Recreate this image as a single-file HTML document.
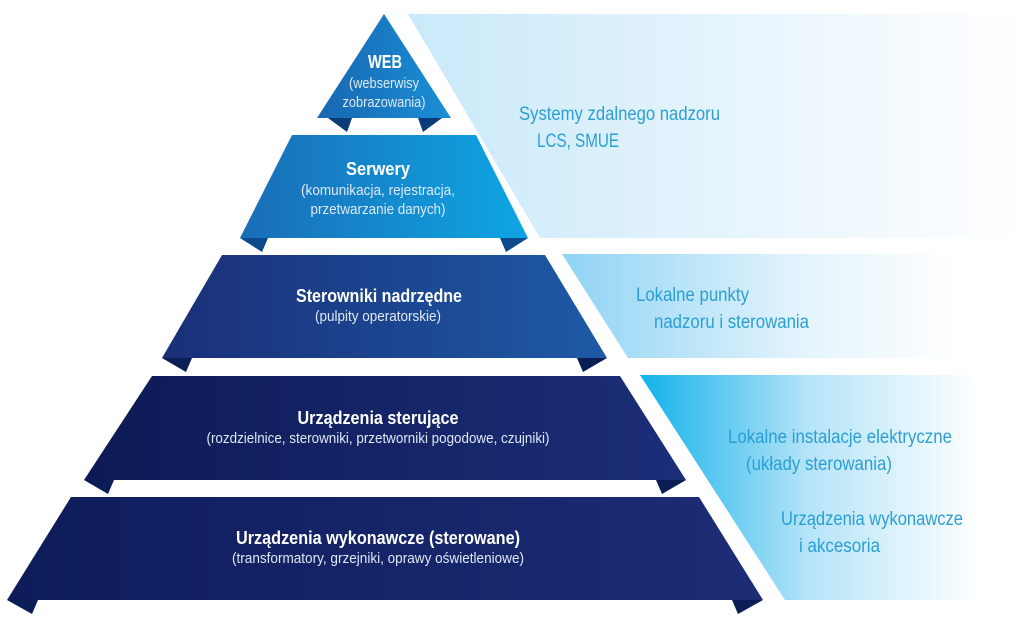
<!DOCTYPE html>
<html><head><meta charset="utf-8"><style>
html,body{margin:0;padding:0;background:#fff;width:1024px;height:625px;overflow:hidden}
svg{display:block}
.t{font-family:"Liberation Sans",sans-serif;fill:#fff;text-anchor:middle}
.b{font-weight:bold;font-size:18px}
.s{font-size:15px;fill:#dfe8f5}
.r{font-family:"Liberation Sans",sans-serif;fill:#2a9fd3;font-size:19px}
</style></head><body>
<svg width="1024" height="625" viewBox="0 0 1024 625">
<defs>
<linearGradient id="p1" x1="0" x2="1"><stop offset="0" stop-color="#c9e9fa"/><stop offset="0.6" stop-color="#eaf6fd"/><stop offset="1" stop-color="#fff"/></linearGradient>
<linearGradient id="p2" x1="0" x2="1"><stop offset="0" stop-color="#8fd3f4"/><stop offset="0.6" stop-color="#e3f4fc"/><stop offset="1" stop-color="#fff"/></linearGradient>
<linearGradient id="p3" x1="0" x2="1"><stop offset="0" stop-color="#12b2ea"/><stop offset="0.5" stop-color="#b6e4f8"/><stop offset="1" stop-color="#fff"/></linearGradient>
<linearGradient id="g1" x1="0" x2="1"><stop offset="0" stop-color="#1867b0"/><stop offset="1" stop-color="#1a8fd6"/></linearGradient>
<linearGradient id="g2" x1="0" x2="1"><stop offset="0" stop-color="#1a6db6"/><stop offset="1" stop-color="#0ea6e4"/></linearGradient>
<linearGradient id="g3" x1="0" x2="1"><stop offset="0" stop-color="#1a2f78"/><stop offset="1" stop-color="#1e5aa6"/></linearGradient>
<linearGradient id="g4" x1="0" x2="1"><stop offset="0" stop-color="#0d1a55"/><stop offset="1" stop-color="#1c2e78"/></linearGradient>
<linearGradient id="g5" x1="0" x2="1"><stop offset="0" stop-color="#0e1c5a"/><stop offset="1" stop-color="#1c2d76"/></linearGradient>
</defs>
<polygon points="408,14 1024,14 1024,238 540,238" fill="url(#p1)"/>
<polygon points="562,254 960,254 960,358 628,358" fill="url(#p2)"/>
<polygon points="640,375 980,375 980,600 785,600" fill="url(#p3)"/>
<g fill="#0b3a78">
<polygon points="328,118 352,118 347,132"/><polygon points="418,118 442,118 423,132"/>
</g>
<g fill="#0d4a8c">
<polygon points="240,238 268,238 262,252"/><polygon points="500,238 528,238 506,252"/>
</g>
<g fill="#0b1d55">
<polygon points="162,358 192,358 186,372"/><polygon points="577,358 607,358 583,372"/>
<polygon points="84,480 114,480 108,494"/><polygon points="656,480 686,480 662,494"/>
<polygon points="7,600 38,600 32,614"/><polygon points="732,600 763,600 738,614"/>
</g>
<polygon points="384,14 451,118 317,118" fill="url(#g1)"/>
<polygon points="292,135 476,135 528,238 240,238" fill="url(#g2)"/>
<polygon points="222,255 545,255 607,358 162,358" fill="url(#g3)"/>
<polygon points="152,376 620,376 686,480 84,480" fill="url(#g4)"/>
<polygon points="71,497 699,497 763,600 7,600" fill="url(#g5)"/>
<text class="t b" x="385" y="68" textLength="34" lengthAdjust="spacingAndGlyphs">WEB</text>
<text class="t s" x="384" y="88" textLength="70" lengthAdjust="spacingAndGlyphs">(webserwisy</text>
<text class="t s" x="384" y="107" textLength="83" lengthAdjust="spacingAndGlyphs">zobrazowania)</text>
<text class="t b" x="378" y="175" textLength="64" lengthAdjust="spacingAndGlyphs">Serwery</text>
<text class="t s" x="378" y="195" textLength="154" lengthAdjust="spacingAndGlyphs">(komunikacja, rejestracja,</text>
<text class="t s" x="378" y="214" textLength="135" lengthAdjust="spacingAndGlyphs">przetwarzanie danych)</text>
<text class="t b" x="379" y="302" textLength="166" lengthAdjust="spacingAndGlyphs">Sterowniki nadrzędne</text>
<text class="t s" x="378" y="321" textLength="126" lengthAdjust="spacingAndGlyphs">(pulpity operatorskie)</text>
<text class="t b" x="378" y="424" textLength="161" lengthAdjust="spacingAndGlyphs">Urządzenia sterujące</text>
<text class="t s" x="378" y="443" textLength="343" lengthAdjust="spacingAndGlyphs">(rozdzielnice, sterowniki, przetworniki pogodowe, czujniki)</text>
<text class="t b" x="378" y="544" textLength="284" lengthAdjust="spacingAndGlyphs">Urządzenia wykonawcze (sterowane)</text>
<text class="t s" x="378" y="563" textLength="292" lengthAdjust="spacingAndGlyphs">(transformatory, grzejniki, oprawy oświetleniowe)</text>
<text class="r" x="519" y="120" textLength="201" lengthAdjust="spacingAndGlyphs">Systemy zdalnego nadzoru</text>
<text class="r" x="537" y="147" textLength="82" lengthAdjust="spacingAndGlyphs">LCS, SMUE</text>
<text class="r" x="636" y="301" textLength="113" lengthAdjust="spacingAndGlyphs">Lokalne punkty</text>
<text class="r" x="654" y="328" textLength="155" lengthAdjust="spacingAndGlyphs">nadzoru i sterowania</text>
<text class="r" x="728" y="443" textLength="224" lengthAdjust="spacingAndGlyphs">Lokalne instalacje elektryczne</text>
<text class="r" x="746" y="470" textLength="146" lengthAdjust="spacingAndGlyphs">(układy sterowania)</text>
<text class="r" x="781" y="525" textLength="182" lengthAdjust="spacingAndGlyphs">Urządzenia wykonawcze</text>
<text class="r" x="799" y="552" textLength="81" lengthAdjust="spacingAndGlyphs">i akcesoria</text>
</svg>
</body></html>
